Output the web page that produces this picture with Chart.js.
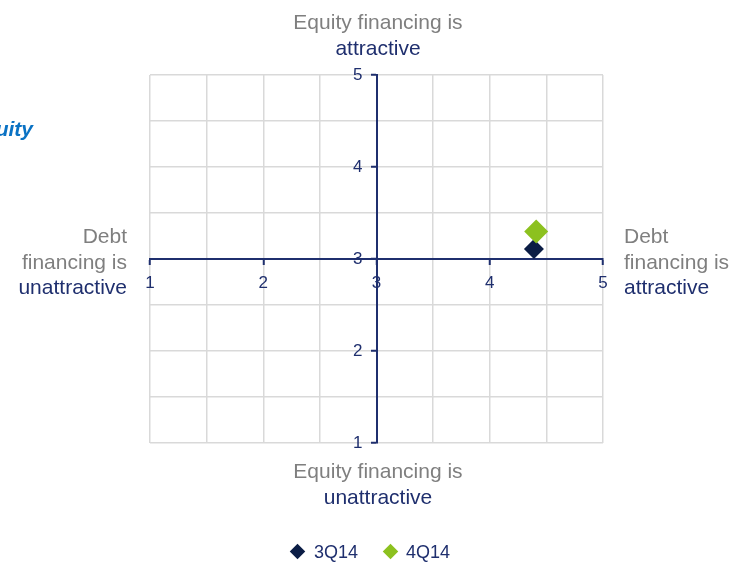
<!DOCTYPE html>
<html>
<head>
<meta charset="utf-8">
<script src="https://cdn.jsdelivr.net/npm/chart.js@4.4.0/dist/chart.umd.min.js"></script>
<style>
  body { margin: 0; background: #fff; font-family: "Liberation Sans", Arial, sans-serif; }
  #wrap { position: relative; width: 732px; height: 562px; overflow: hidden; }
  canvas { position: absolute; left: 0; top: 0; }
  .lbl { position: absolute; font-size: 21px; line-height: 25.5px; white-space: nowrap; }
  .grey { color: #7f7f7f; }
  .navy { color: #1f2f6e; }
  .title { position: absolute; right: 699px; top: 117px; font-size: 21px; font-weight: bold; font-style: italic; color: #0a72c4; white-space: nowrap; }
  .leg { position: absolute; top: 541px; font-size: 18px; color: #1f2f6e; line-height: 22px; }
  .dia { position: absolute; width: 11px; height: 11px; transform: rotate(45deg); }
</style>
</head>
<body>
<div id="wrap">
  <canvas id="grafico" width="732" height="562"></canvas>
  <div class="title">Equity</div>
  <div class="lbl" style="left:228px;width:300px;text-align:center;top:9px;line-height:26px;"><span class="grey">Equity financing is</span><br><span class="navy">attractive</span></div>
  <div class="lbl" style="left:228px;width:300px;text-align:center;top:458px;line-height:26px;"><span class="grey">Equity financing is</span><br><span class="navy">unattractive</span></div>
  <div class="lbl" style="right:605px;text-align:right;top:223px;"><span class="grey">Debt<br>financing is</span><br><span class="navy">unattractive</span></div>
  <div class="lbl" style="left:624px;text-align:left;top:223px;"><span class="grey">Debt<br>financing is</span><br><span class="navy">attractive</span></div>
  <div class="dia" style="left:292px;top:546px;background:#0b1d45;"></div>
  <div class="leg" style="left:314px;">3Q14</div>
  <div class="dia" style="left:385px;top:546px;background:#8cc11f;"></div>
  <div class="leg" style="left:406px;">4Q14</div>
</div>
<script>
  // datos
  const series = ['3Q14', '4Q14'];
  const debtScore = [4.39, 4.41];     // eje x: financiación por deuda
  const equityScore = [3.11, 3.30];   // eje y: financiación por capital
  const colores = ['#0b1d45', '#8cc11f'];
  const tamanos = [10, 12];
  const axisMin = 1, axisMax = 5, axisCross = 3;

  const navy = '#1f2f6e';
  const tickFont = { family: 'Liberation Sans, Arial, sans-serif', size: 17 };

  const datasets = series.map((s, i) => ({
    label: s,
    data: [{ x: debtScore[i], y: equityScore[i] }],
    backgroundColor: colores[i],
    borderWidth: 0,
    pointStyle: 'rectRot',
    pointRadius: tamanos[i],
    pointHoverRadius: tamanos[i],
    order: series.length - i
  }));

  function tickColor(ctx) {
    return Number.isInteger(ctx.tick.value) ? navy : 'rgba(0,0,0,0)';
  }

  new Chart(document.getElementById('grafico').getContext('2d'), {
    type: 'scatter',
    data: { datasets: datasets },
    options: {
      responsive: false,
      animation: false,
      devicePixelRatio: 1,
      layout: { padding: { left: 150, right: 129, top: 75, bottom: 119 } },
      plugins: { legend: { display: false }, tooltip: { enabled: false } },
      scales: {
        x: {
          type: 'linear',
          min: axisMin, max: axisMax,
          position: { y: axisCross },
          ticks: {
            stepSize: 0.5, autoSkip: false, maxRotation: 0,
            color: navy, font: tickFont, padding: 9,
            callback: v => Number.isInteger(v) ? String(v) : ''
          },
          grid: { color: '#d9d9d9', lineWidth: 1.5, tickColor: tickColor, tickLength: 5, tickWidth: 2 },
          border: { color: navy, width: 2 }
        },
        y: {
          type: 'linear',
          min: axisMin, max: axisMax,
          position: { x: axisCross },
          ticks: {
            stepSize: 0.5, autoSkip: false,
            color: navy, font: tickFont,
            // con el eje centrado la etiqueta queda pegada a la línea: se separa con espacios
            callback: v => Number.isInteger(v) ? v + '   ' : ''
          },
          grid: { color: '#d9d9d9', lineWidth: 1.5, tickColor: tickColor, tickLength: 5, tickWidth: 2 },
          border: { color: navy, width: 2 }
        }
      }
    }
  });
</script>
</body>
</html>
